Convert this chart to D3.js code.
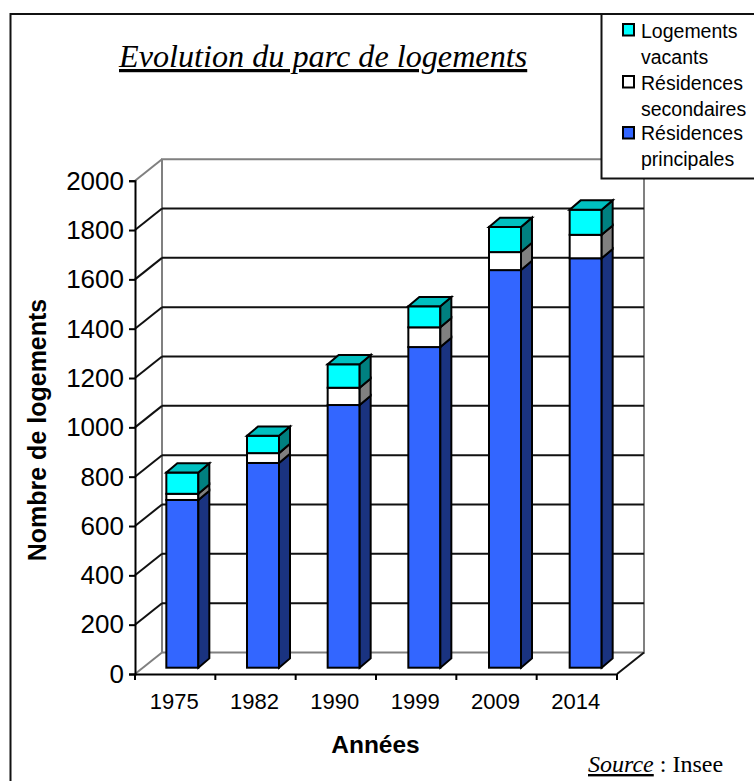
<!DOCTYPE html>
<html lang="fr"><head><meta charset="utf-8">
<script src="https://cdn.jsdelivr.net/npm/d3@7"></script>
<style>html,body{margin:0;padding:0;background:#fff}svg{display:block}</style></head>
<body><svg id="c" width="754" height="781"></svg>
<script>
const years = ["1975","1982","1990","1999","2009","2014"];
const principales = [680,830,1065,1300,1612,1660];
const secondaires = [25,40,70,80,73,95];
const vacants = [86,70,95,85,102,102];
const yTicks = [0,200,400,600,800,1000,1200,1400,1600,1800,2000];
const seriesNames = ["Résidences principales","Résidences secondaires","Logements vacants"];
const seriesValues = [principales,secondaires,vacants];
const frontCols = ["#3366ff","#ffffff","#00ffff"];
const sideCols = ["#1a3380","#808080","#008080"];
const topCols = ["#1a3380","#808080","#00c0c0"];
const legendLines = [["Logements","vacants"],["Résidences","secondaires"],["Résidences","principales"]];
const legendCols = ["#00ffff","#ffffff","#3366ff"];

const svg = d3.select("#c");
const sans = "'Liberation Sans',Arial,sans-serif", serif = "'Liberation Serif','Times New Roman',serif";
// outer frame (open right/bottom)
svg.append("path").attr("d","M10.5,781V14H754").attr("fill","none").attr("stroke","#111").attr("stroke-width",2);

const x = d3.scaleBand().domain(years).range([135,617]);
const y = d3.scaleLinear().domain([0,2000]).range([674,180.7]);
const depthX = 27, depthY = 21.5;
const yBack = v => y(v) - depthY;

// walls
const grid = svg.append("g");
grid.append("path").attr("d",`M${135+depthX},${yBack(0)}V${yBack(2000)}H${617+depthX}V${yBack(0)}H${135+depthX}`)
  .attr("fill","none").attr("stroke","#808080").attr("stroke-width",2);
grid.selectAll(".h").data(yTicks.filter(t=>t>0&&t<2000)).join("line")
  .attr("x1",135+depthX).attr("x2",617+depthX).attr("y1",yBack).attr("y2",yBack)
  .attr("stroke","#111").attr("stroke-width",2);
grid.selectAll(".d").data(yTicks).join("line")
  .attr("x1",135).attr("x2",135+depthX).attr("y1",y).attr("y2",yBack)
  .attr("stroke",d=>d===0||d===2000?"#808080":"#111").attr("stroke-width",2);
grid.append("line").attr("x1",617).attr("x2",617+depthX).attr("y1",y(0)).attr("y2",yBack(0)).attr("stroke","#111").attr("stroke-width",2);

// bars
const barX = d3.scaleBand().domain(years).range([142,626]);
const barW = 32, barBase = 6.3, sx = 11, sy = 9.3;
const yBar = v => y(v) - barBase;
const bars = svg.append("g").attr("stroke","#000").attr("stroke-width",2).attr("stroke-linejoin","miter");
years.forEach((yr,i)=>{
  const l = barX(yr)+barX.bandwidth()/2-barW/2, r = l+barW;
  let acc = 0;
  seriesValues.forEach((vals,s)=>{
    const y0 = yBar(acc), y1 = yBar(acc+vals[i]); acc += vals[i];
    bars.append("rect").attr("x",l).attr("y",y1).attr("width",barW).attr("height",y0-y1).attr("fill",frontCols[s]);
    bars.append("path").attr("d",`M${r},${y0}L${r+sx},${y0-sy}V${y1-sy}L${r},${y1}Z`).attr("fill",sideCols[s]);
    if(s===2) bars.append("path").attr("d",`M${l},${y1}L${l+sx},${y1-sy}H${r+sx}L${r},${y1}Z`).attr("fill",topCols[s]);
  });
});

// axes
const gy = svg.append("g").attr("transform","translate(135,0)").call(d3.axisLeft(y).tickValues(yTicks).tickFormat(d3.format("d")).tickSizeOuter(0).tickSize(6).tickPadding(5));
const gx = svg.append("g").attr("transform","translate(0,674)").call(d3.axisBottom(x).tickSize(0).tickPadding(19));
gx.selectAll(".tick").attr("transform",d=>`translate(${x(d)+x.bandwidth()/2-1},0)`);
gx.selectAll(".xt").data([...years.map(d=>x(d)),617]).join("line").attr("x1",d=>d).attr("x2",d=>d).attr("y1",0).attr("y2",6).attr("stroke","#000").attr("stroke-width",2);
[gy,gx].forEach(g=>{g.selectAll("path.domain").attr("stroke","#000").attr("stroke-width",2);
  g.selectAll(".tick line").attr("stroke","#000").attr("stroke-width",2);
  g.selectAll("text").attr("fill","#000").attr("font-family",sans);});
gy.selectAll("text").attr("font-size",26);
gx.selectAll("text").attr("font-size",22);

// titles
svg.append("text").attr("x",119).attr("y",67).attr("font-family",serif).attr("font-style","italic").attr("font-size",32.2)
  .attr("text-decoration","underline").attr("fill","#000").text("Evolution du parc de logements");
svg.append("text").attr("x",375.5).attr("y",753).attr("text-anchor","middle").attr("font-family",sans).attr("font-weight","bold").attr("font-size",24.5).text("Années");
svg.append("text").attr("transform","translate(46,430) rotate(-90)").attr("text-anchor","middle").attr("font-family",sans).attr("font-weight","bold").attr("font-size",25).text("Nombre de logements");
const src = svg.append("text").attr("x",588).attr("y",772).attr("font-family",serif).attr("font-size",24).attr("fill","#000");
src.append("tspan").attr("font-style","italic").attr("text-decoration","underline").text("Source");
src.append("tspan").text(" : Insee");

// legend
const lg = svg.append("g");
lg.append("rect").attr("x",601.5).attr("y",14).attr("width",160).attr("height",164.5).attr("fill","#fff").attr("stroke","#111").attr("stroke-width",2);
const keyY = [24,76,127], textY = [[38,64],[90,116],[140,166]];
legendLines.forEach((lines,i)=>{
  lg.append("rect").attr("x",623).attr("y",keyY[i]).attr("width",11).attr("height",11.5).attr("fill",legendCols[i]).attr("stroke","#000").attr("stroke-width",2);
  lines.forEach((t,j)=>lg.append("text").attr("x",641).attr("y",textY[i][j]).attr("font-family",sans).attr("font-size",19.5).attr("fill","#000").text(t));
});
</script></body></html>
